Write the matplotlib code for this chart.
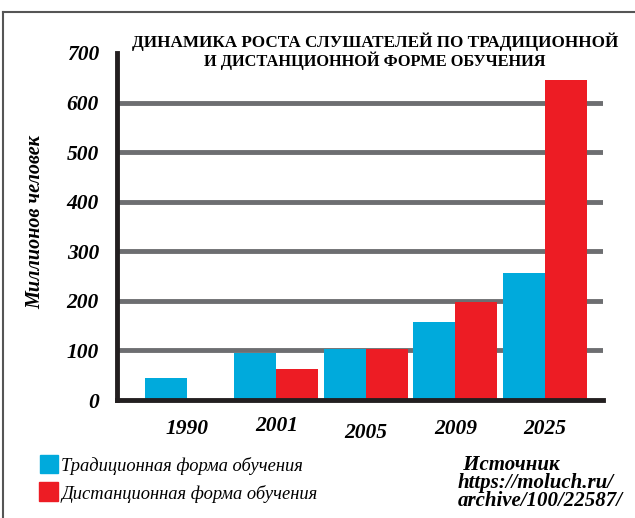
import numpy as np
import matplotlib.pyplot as plt
import matplotlib.transforms as mtransforms
from matplotlib.patches import Rectangle
from matplotlib.lines import Line2D

years = ["1990", "2001", "2005", "2009", "2025"]
traditional = [45, 95, 103, 158, 256]
distance = [0, 62, 103, 198, 645]
y_ticks = [0, 100, 200, 300, 400, 500, 600, 700]

blue = "#00aadc"
red = "#ed1c24"
grid_gray = "#6d6e71"
serif = ["Liberation Serif", "DejaVu Serif"]

fig = plt.figure(figsize=(6.35, 5.18), dpi=100)
ax = fig.add_axes([117 / 635, 1 - 400 / 518, 486 / 635, 347 / 518])

x = np.arange(len(years))
w = 0.47
ax.bar(x - w / 2, traditional, width=w, color=blue, zorder=3)
ax.bar(x + w / 2, distance, width=w, color=red, zorder=3)

for v in y_ticks[1:-1]:
    ax.axhline(v, color=grid_gray, lw=3.5, zorder=1)

ax.set_xlim(-0.78, 4.65)
ax.set_ylim(0, 700)
for s in ["top", "right"]:
    ax.spines[s].set_visible(False)
ax.spines["left"].set_linewidth(3.5)
ax.spines["bottom"].set_linewidth(3.5)
ax.spines["left"].set_color("#231f20")
ax.spines["bottom"].set_color("#231f20")
ax.spines["bottom"].set_zorder(4)

ax.set_yticks(y_ticks)
ax.set_yticklabels([str(v) for v in y_ticks], fontfamily=serif,
                   fontweight="bold", fontstyle="italic", fontsize=15.5)
ax.set_xticks(x)
ax.set_xticklabels(years, fontfamily=serif, fontweight="bold",
                   fontstyle="italic", fontsize=15.5)
ax.tick_params(axis="both", length=0)
ax.tick_params(axis="y", pad=13)
ax.tick_params(axis="x", pad=14)

# slight vertical stagger of the year labels, as in the original
shifts = [0, 3, -4, 0, 0]
for lab, dy in zip(ax.get_xticklabels(), shifts):
    lab.set_transform(lab.get_transform() +
                      mtransforms.ScaledTranslation(0, dy / 100, fig.dpi_scale_trans))

fig.text(0.055, 1 - 222 / 518, "Миллионов человек", rotation=90, ha="center",
         va="center", fontfamily=serif, fontweight="bold", fontstyle="italic",
         fontsize=14.5)

fig.text(375 / 635, 1 - 42 / 518, "ДИНАМИКА РОСТА СЛУШАТЕЛЕЙ ПО ТРАДИЦИОННОЙ",
         ha="center", va="center", fontfamily=serif, fontweight="bold",
         fontsize=12.3)
fig.text(375 / 635, 1 - 61 / 518, "И ДИСТАНЦИОННОЙ ФОРМЕ ОБУЧЕНИЯ",
         ha="center", va="center", fontfamily=serif, fontweight="bold",
         fontsize=11.8)

# legend
fig.patches.append(Rectangle((40 / 635, 1 - 473 / 518), 18 / 635, 18 / 518,
                             transform=fig.transFigure, color=blue))
fig.patches.append(Rectangle((39 / 635, 1 - 501 / 518), 19 / 635, 19 / 518,
                             transform=fig.transFigure, color=red))
fig.text(61 / 635, 1 - 466 / 518, "Традиционная форма обучения", va="center",
         fontfamily=serif, fontstyle="italic", fontsize=13.3)
fig.text(61 / 635, 1 - 494 / 518, "Дистанционная форма обучения", va="center",
         fontfamily=serif, fontstyle="italic", fontsize=13.3)

# source note as one block of text
fig.text(458 / 635, 1 - 483 / 518,
         " Источник\nhttps://moluch.ru/\narchive/100/22587/",
         va="center", ha="left", linespacing=0.9,
         fontfamily=serif, fontweight="bold", fontstyle="italic", fontsize=15)

# frame
fig.lines.append(Line2D([3 / 635, 1], [1 - 12 / 518, 1 - 12 / 518],
                        transform=fig.transFigure, color="#555555", lw=1.5))
fig.lines.append(Line2D([3 / 635, 3 / 635], [0, 1 - 12 / 518],
                        transform=fig.transFigure, color="#555555", lw=1.5))

fig.savefig("out.png", dpi=100)
